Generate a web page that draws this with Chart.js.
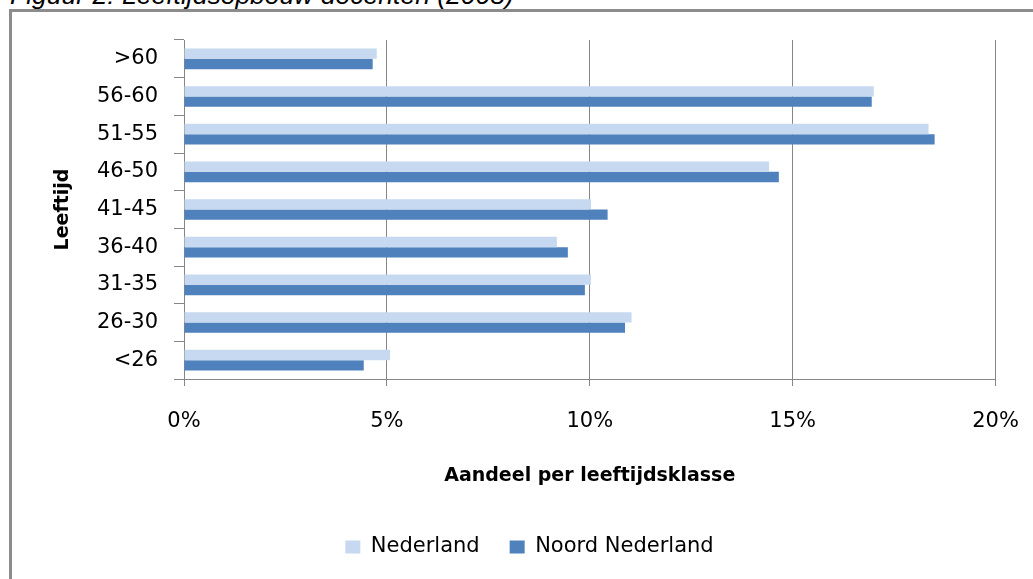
<!DOCTYPE html>
<html>
<head>
<meta charset="utf-8">
<script src="https://cdn.jsdelivr.net/npm/chart.js@4.4.1/dist/chart.umd.min.js"></script>
<style>
  html, body { margin: 0; padding: 0; background: #fff; overflow: hidden; }
  body { width: 1033px; height: 579px; position: relative; }
  #title { position: absolute; left: 10px; top: -18px; font: italic 26.5px "Liberation Sans", Arial, sans-serif; line-height: 26px; color: #000; white-space: nowrap; }
  #frame { position: absolute; left: 9px; top: 9px; width: 1100px; height: 700px; border: 3px solid #8c8c8c; box-sizing: border-box; }
  #chart { position: absolute; left: 0; top: 0; }
</style>
</head>
<body>
<div id="title">Figuur 2: Leeftijdsopbouw docenten (2008)</div>
<div id="frame"></div>
<canvas id="chart" width="1033" height="579"></canvas>
<script>
const categories = ['>60', '56-60', '51-55', '46-50', '41-45', '36-40', '31-35', '26-30', '<26'];
const nederland = [4.75, 17.0, 18.35, 14.42, 10.03, 9.19, 10.03, 11.03, 5.08];
const noordNederland = [4.65, 16.95, 18.5, 14.66, 10.44, 9.46, 9.88, 10.87, 4.43];
const xTickValues = [0, 5, 10, 15, 20];
const seriesNames = ['Nederland', 'Noord Nederland'];
const xTitle = 'Aandeel per leeftijdsklasse';
const yTitle = 'Leeftijd';

const gray = '#868686';
const font = 'DejaVu Sans';
const padL = 63.5, padR = 37.5;

new Chart(document.getElementById('chart'), {
  type: 'bar',
  data: {
    labels: categories,
    datasets: [
      { label: seriesNames[0], data: nederland, backgroundColor: '#c6d9f0', borderWidth: 0 },
      { label: seriesNames[1], data: noordNederland, backgroundColor: '#4f81bd', borderWidth: 0 }
    ]
  },
  options: {
    indexAxis: 'y',
    responsive: false,
    animation: false,
    devicePixelRatio: 1,
    categoryPercentage: 0.55,
    barPercentage: 1.0,
    layout: { padding: { left: padL, right: padR, top: 40, bottom: 11.5 } },
    plugins: {
      tooltip: { enabled: false },
      legend: {
        position: 'bottom',
        labels: {
          boxWidth: 15, boxHeight: 13, padding: 30,
          color: '#000',
          font: { family: font, size: 21 }
        }
      }
    },
    scales: {
      x: {
        type: 'linear',
        min: 0, max: 20,
        afterFit: (s) => { s.height = 127.5; s.paddingLeft = 0; s.paddingRight = 0; },
        afterBuildTicks: (s) => { s.ticks = xTickValues.map(v => ({ value: v })); },
        ticks: {
          stepSize: 5,
          padding: 23,
          color: '#000',
          font: { family: font, size: 21 },
          callback: (v) => v + '%'
        },
        grid: { color: gray, lineWidth: 1, tickLength: 7, drawTicks: true },
        border: { color: gray, width: 1 },
        title: {
          display: true, text: xTitle, color: '#000',
          font: { family: font, size: 19, weight: 'bold' },
          padding: { top: 0, bottom: 19 }
        }
      },
      y: {
        afterFit: (s) => { s.width = 184 - padL; },
        ticks: {
          padding: 16,
          color: '#000',
          font: { family: font, size: 21 }
        },
        grid: { display: true, drawOnChartArea: false, offset: true, color: gray, tickLength: 10 },
        border: { color: gray, width: 1 },
        title: {
          display: true, text: yTitle, color: '#000',
          font: { family: font, size: 19, weight: 'bold' },
          padding: { top: -12.3, bottom: 0 }
        }
      }
    }
  }
});
</script>
</body>
</html>
